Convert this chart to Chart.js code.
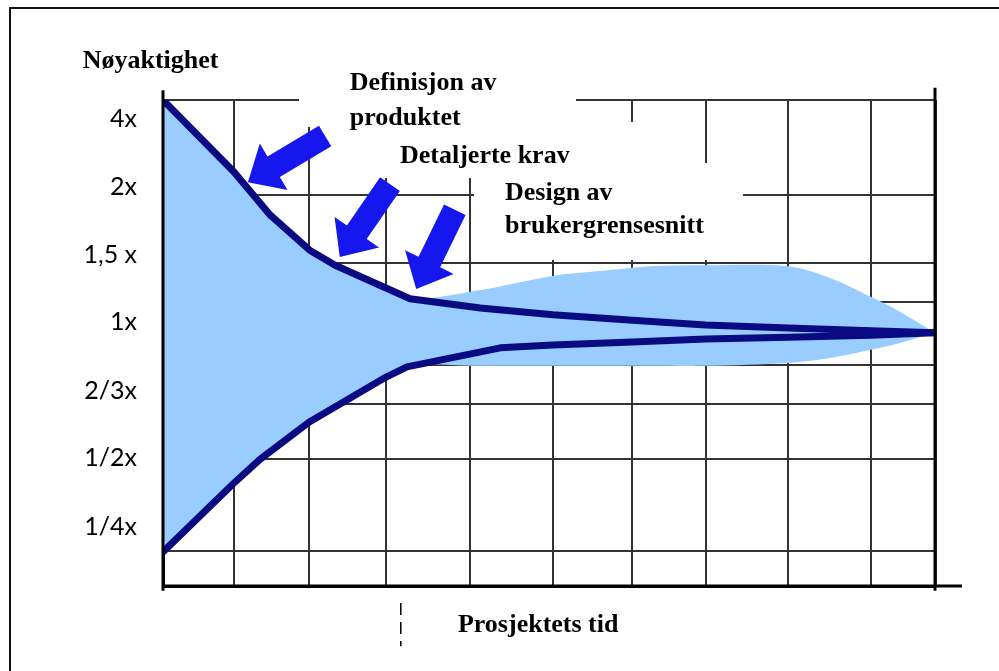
<!DOCTYPE html>
<html>
<head>
<meta charset="utf-8">
<script src="https://cdn.jsdelivr.net/npm/chart.js@4.4.1/dist/chart.umd.min.js"></script>
<style>
  html, body { margin: 0; padding: 0; background: #fff; }
  #frame { position: relative; width: 999px; height: 671px; overflow: hidden; }
  #frame canvas { position: absolute; left: 0; top: 0; }
  #border { position: absolute; left: 9px; top: 7px; width: 1010px; height: 700px; border: 2px solid #111; box-sizing: border-box; }
</style>
</head>
<body>
<div id="frame">
  <div id="border"></div>
  <canvas id="myChart" width="999" height="671"></canvas>
</div>
<script>
// Begge aksene bruker egne enheter 0–100 (venstre/nederst = 0)
const timeMarks = [0, 9.2, 18.9, 28.9, 39.8, 50.5, 60.8, 70.3, 81.0, 91.7, 100];
const gridLevels = [0, 7.2, 26.1, 37.4, 45.5, 52.1, 58.4, 66.5, 80.5, 100];
const oneLevel = 52.1;
const tickLevels = [12.1, 26.3, 40.1, 54.3, 68.1, 82.1, 96.1];
const tickLabels = ['1/4x', '1/2x', '2/3x', '1x', '1,5 x', '2x', '4x'];

// Øvre og nedre grense for anslaget
const upperX = [0, 9.2, 13.9, 19.0, 22.3, 27.5, 32.0, 41.1, 50.5, 60.8, 70.3, 81.0, 91.7, 100];
const upperY = [100, 85.2, 76.3, 69.1, 66.0, 62.3, 59.1, 57.2, 55.8, 54.7, 53.7, 53.1, 52.5, 52.1];
const lowerX = [0, 9.2, 12.6, 18.9, 28.9, 31.6, 43.7, 50.5, 60.8, 70.3, 81.0, 91.7, 100];
const lowerY = [7.0, 21.2, 26.1, 33.7, 43.0, 45.1, 49.0, 49.6, 50.2, 50.8, 51.2, 51.6, 52.1];

// Lyseblått felt
const bandX = [0, 9.2, 13.9, 19.0, 22.3, 27.5, 32.0, 41.1, 50.5, 56.6, 63.1, 70.3, 81.0, 86.4, 91.7, 95.5, 100];
const bandTop = [100, 85.2, 76.3, 69.1, 66.0, 62.3, 59.1, 60.9, 63.8, 64.8, 65.8, 66.0, 65.8, 63.4, 59.5, 56.4, 52.1];
const bandBottom = [7.0, 21.2, 27.8, 34.0, 36.8, 41.8, 45.3, 45.3, 45.3, 45.3, 45.3, 45.3, 45.9, 46.9, 48.6, 50.0, 52.1];

const toPoints = (xs, ys) => xs.map((v, i) => ({ x: v, y: ys[i] }));

// Tekster, piler og hvite felt bak tekstene (i akseenheter)
const notes = [
  { text: 'Nøyaktighet', x: -10.4, y: 106.6 },
  { text: 'Definisjon av', x: 24.2, y: 102.1 },
  { text: 'produktet', x: 24.2, y: 94.9 },
  { text: 'Detaljerte krav', x: 30.7, y: 87.0 },
  { text: 'Design av', x: 44.3, y: 79.4 },
  { text: 'brukergrensesnitt', x: 44.3, y: 72.6 },
  { text: 'Prosjektets tid', x: 38.2, y: -9.5 }
];
const arrows = [
  { from: [21.0, 92.6], to: [11.0, 83.1] },
  { from: [29.4, 82.7], to: [22.9, 67.7] },
  { from: [37.8, 77.4], to: [32.8, 61.1] }
];
const noteBoxes = [
  { x0: 17.7, x1: 53.4, y0: 94.5, y1: 108.2 },
  { x0: 28.1, x1: 64.4, y0: 84.0, y1: 95.3 },
  { x0: 40.4, x1: 75.1, y0: 67.1, y1: 87.0 }
];

const navy = '#0a0a82';
const arrowBlue = '#1616ee';
const gridColor = '#333';

function drawArrow(ctx, x0, y0, x1, y1) {
  const shaft = 24, head = 54, headLen = 30;
  const len = Math.hypot(x1 - x0, y1 - y0);
  const dx = (x1 - x0) / len, dy = (y1 - y0) / len;
  const px = -dy, py = dx;
  const bx = x1 - dx * headLen, by = y1 - dy * headLen;
  ctx.beginPath();
  ctx.moveTo(x0 + px * shaft / 2, y0 + py * shaft / 2);
  ctx.lineTo(bx + px * shaft / 2, by + py * shaft / 2);
  ctx.lineTo(bx + px * head / 2, by + py * head / 2);
  ctx.lineTo(x1, y1);
  ctx.lineTo(bx - px * head / 2, by - py * head / 2);
  ctx.lineTo(bx - px * shaft / 2, by - py * shaft / 2);
  ctx.lineTo(x0 - px * shaft / 2, y0 - py * shaft / 2);
  ctx.closePath();
  ctx.fill();
}

const overlay = {
  id: 'overlay',
  beforeDatasetsDraw(chart) {
    const { ctx, scales: { x, y } } = chart;
    ctx.save();
    ctx.fillStyle = '#fff';
    noteBoxes.forEach(b => {
      const l = Math.floor(x.getPixelForValue(b.x0)), r = Math.ceil(x.getPixelForValue(b.x1));
      const t = Math.floor(y.getPixelForValue(b.y1)), btm = Math.ceil(y.getPixelForValue(b.y0));
      ctx.fillRect(l, t, r - l, btm - t);
    });
    ctx.restore();
  },
  afterDatasetsDraw(chart) {
    const { ctx, scales: { x, y } } = chart;
    ctx.save();

    // forlengelse av aksene utenfor plottet
    ctx.strokeStyle = '#000';
    ctx.lineWidth = 3;
    ctx.beginPath();
    ctx.moveTo(x.getPixelForValue(0), y.getPixelForValue(102));
    ctx.lineTo(x.getPixelForValue(0), y.getPixelForValue(-1));
    ctx.moveTo(x.getPixelForValue(100), y.getPixelForValue(102.5));
    ctx.lineTo(x.getPixelForValue(100), y.getPixelForValue(-1));
    ctx.moveTo(x.getPixelForValue(0), y.getPixelForValue(0));
    ctx.lineTo(x.getPixelForValue(103.5), y.getPixelForValue(0));
    ctx.stroke();

    // stiplet markering under tidsaksen
    ctx.lineWidth = 1.5;
    ctx.setLineDash([12, 7]);
    ctx.beginPath();
    ctx.moveTo(x.getPixelForValue(30.8), y.getPixelForValue(-3.5));
    ctx.lineTo(x.getPixelForValue(30.8), y.getPixelForValue(-12.4));
    ctx.stroke();
    ctx.setLineDash([]);

    ctx.fillStyle = arrowBlue;
    arrows.forEach(a => drawArrow(ctx,
      x.getPixelForValue(a.from[0]), y.getPixelForValue(a.from[1]),
      x.getPixelForValue(a.to[0]), y.getPixelForValue(a.to[1])));

    ctx.fillStyle = '#000';
    ctx.font = 'bold 26px "Liberation Serif", "Times New Roman", serif';
    ctx.textAlign = 'left';
    ctx.textBaseline = 'alphabetic';
    notes.forEach(n => ctx.fillText(n.text, x.getPixelForValue(n.x), y.getPixelForValue(n.y)));
    ctx.restore();
  }
};

const ctx = document.getElementById('myChart').getContext('2d');
new Chart(ctx, {
  type: 'line',
  data: {
    datasets: [
      { data: toPoints(upperX, upperY), borderColor: navy, borderWidth: 7, fill: false },
      { data: toPoints(lowerX, lowerY), borderColor: navy, borderWidth: 7, fill: false },
      { data: toPoints(bandX, bandTop), borderWidth: 0, fill: '+1', backgroundColor: '#99ccff', tension: 0.3 },
      { data: toPoints(bandX, bandBottom), borderWidth: 0, fill: false, tension: 0.3 }
    ]
  },
  options: {
    responsive: false,
    animation: false,
    parsing: false,
    layout: { padding: { top: 100, right: 64, bottom: 85, left: 0 } },
    elements: {
      point: { radius: 0, hoverRadius: 0 },
      line: { tension: 0, borderCapStyle: 'round', borderJoinStyle: 'round' }
    },
    plugins: { legend: { display: false }, tooltip: { enabled: false } },
    scales: {
      x: {
        type: 'linear', min: 0, max: 100,
        afterBuildTicks: s => { s.ticks = timeMarks.map(v => ({ value: v })); },
        afterFit: s => { s.height = 0; },
        ticks: { display: false },
        grid: { color: gridColor, lineWidth: c => (c.tick && c.tick.value === 100 ? 3 : 2), drawTicks: false },
        border: { display: true, color: '#000', width: 3 }
      },
      y: {
        type: 'linear', min: 0, max: 100, position: 'left', weight: 0,
        afterBuildTicks: s => { s.ticks = gridLevels.map(v => ({ value: v })); },
        afterFit: s => { s.width = 0; },
        ticks: { display: false },
        grid: {
          color: c => (c.tick && c.tick.value === oneLevel ? '#000' : gridColor),
          lineWidth: c => (c.tick && c.tick.value === oneLevel ? 3 : 2),
          drawTicks: false
        },
        border: { display: true, color: '#000', width: 3 }
      },
      yLabels: {
        type: 'linear', min: 0, max: 100, position: 'left', weight: 1,
        afterBuildTicks: s => { s.ticks = tickLevels.map(v => ({ value: v })); },
        afterFit: s => { s.width = 163; },
        ticks: {
          autoSkip: false,
          padding: 26,
          color: '#000',
          font: { family: 'Lato', size: 25 },
          callback: (v, i) => tickLabels[i]
        },
        grid: { display: false, drawTicks: false },
        border: { display: false }
      }
    }
  },
  plugins: [overlay]
});
</script>
</body>
</html>
